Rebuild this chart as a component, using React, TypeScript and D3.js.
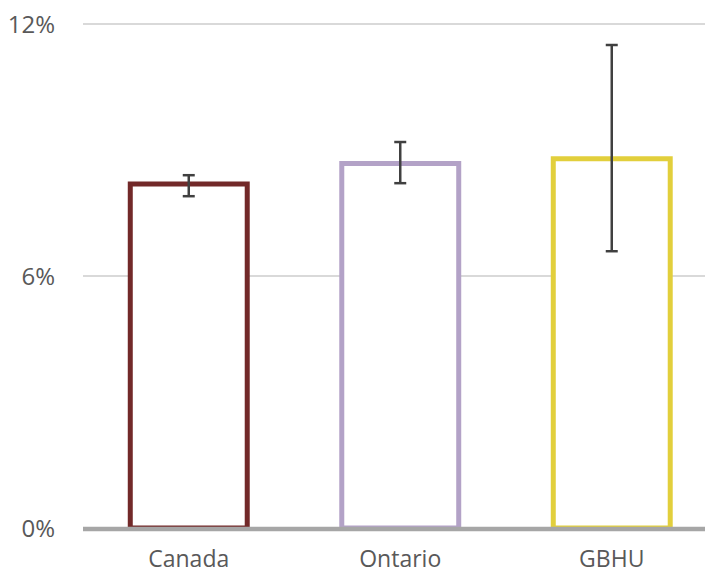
import React from "react";
import * as d3 from "d3";

const categories = ["Canada", "Ontario", "GBHU"];
const values = [8.19, 8.68, 8.79];
const errLow = [7.9, 8.21, 6.59];
const errHigh = [8.4, 9.19, 11.5];
const colors = ["#722929", "#b3a2c7", "#e2cf3c"];
const yTicks = [0, 6, 12];

const W = 705;
const H = 575;

export default function App() {
  const x = d3.scaleBand<string>().domain(categories).range([83, 717.5]).paddingInner(0.447).paddingOuter(0.2235);
  const y = d3.scaleLinear().domain([0, 12]).range([528, 24]);
  const bw = x.bandwidth();
  return (
    <svg width={W} height={H} style={{ position: "absolute", left: 0, top: 0, fontFamily: "'Open Sans', sans-serif" }}>
      {yTicks.filter((t) => t !== 0).map((t) => (
        <line key={t} x1={83} x2={W} y1={y(t)} y2={y(t)} stroke="#d9d9d9" strokeWidth={2} />
      ))}
      {yTicks.map((t) => (
        <text key={"l" + t} x={55} y={y(t)} dy="0.36em" textAnchor="end" fontSize={24} fill="#595959">
          {t + "%"}
        </text>
      ))}
      {categories.map((c, i) => {
        const x0 = x(c)!;
        return (
          <path
            key={c}
            d={`M${x0},${y(0)} L${x0},${y(values[i])} L${x0 + bw},${y(values[i])} L${x0 + bw},${y(0)} Z`}
            fill="white"
            stroke={colors[i]}
            strokeWidth={5}
          />
        );
      })}
      <line x1={83} x2={W} y1={y(0) + 1} y2={y(0) + 1} stroke="#a6a6a6" strokeWidth={4.5} />
      {categories.map((c, i) => {
        const cx = x(c)! + bw / 2;
        return (
          <g key={"e" + c} stroke="#404040" strokeWidth={2.5}>
            <line x1={cx} x2={cx} y1={y(errLow[i])} y2={y(errHigh[i])} />
            <line x1={cx - 6} x2={cx + 6} y1={y(errLow[i])} y2={y(errLow[i])} />
            <line x1={cx - 6} x2={cx + 6} y1={y(errHigh[i])} y2={y(errHigh[i])} />
          </g>
        );
      })}
      {categories.map((c) => (
        <text key={"c" + c} x={x(c)! + bw / 2} y={567} textAnchor="middle" fontSize={23} fill="#595959">
          {c}
        </text>
      ))}
    </svg>
  );
}
